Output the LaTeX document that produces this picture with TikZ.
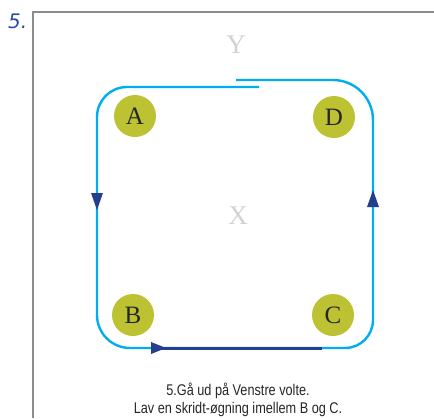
\documentclass[tikz,border=0pt]{standalone}
\usepackage{fontspec}
\setmainfont{Liberation Serif}
\newfontfamily\capfont[FakeStretch=0.82]{Liberation Sans}
\newfontfamily\handfont{DejaVu Sans}
\definecolor{frame}{HTML}{8C8C8C}
\definecolor{track}{HTML}{00AEEF}
\definecolor{darkarrow}{HTML}{253F8F}
\definecolor{olive}{HTML}{BCC232}
\definecolor{lettergray}{HTML}{D2D2D2}
\definecolor{handblue}{HTML}{2B4A9A}
\begin{document}
\begin{tikzpicture}[x=1pt,y=-1pt,
  letter/.style={circle,fill=olive,minimum size=42pt,inner sep=0pt,font=\fontsize{25}{25}\selectfont,text=black!85},
  faint/.style={font=\fontsize{27}{27}\selectfont,text=lettergray},
  trackline/.style={draw=track,line width=2.4pt},
  darkline/.style={draw=darkarrow,line width=3pt},
  tip/.style={fill=darkarrow}]
\useasboundingbox (0,0) rectangle (434,418);
% frame
\draw[frame,line width=2.2pt] (33,418) -- (33,12) -- (434,12);
\node[font=\handfont\itshape\fontsize{20}{20}\selectfont,text=handblue,anchor=base west,inner sep=0pt] (num) at (8,28) {5.};
% track
\coordinate (s) at (259,87);
\coordinate (e) at (236,80);
\draw[trackline] (s) -- (127,87) .. controls (110.4,87) and (97,100.4) .. (97,117)
  -- (97,315) .. controls (97,333.2) and (111.8,348) .. (130,348)
  -- (345,348) .. controls (360.5,348) and (373,335.5) .. (373,320)
  -- (373,120) .. controls (373,97.9) and (355.1,80) .. (333,80)
  -- (e);
\coordinate (b1) at (152,348);
\coordinate (b2) at (322,348);
\draw[darkline] (b1) -- (b2);
% arrowheads
\fill[tip] (151,342) -- (166,348) -- (151,354) -- cycle;
\fill[tip] (91,193) -- (97,210) -- (103,193) -- cycle;
\fill[tip] (367,207) -- (373,190) -- (379,207) -- cycle;
% markers
\node[letter] (A) at (135,116) {A};
\node[letter] (D) at (334,117) {D};
\node[letter] (B) at (133,315) {B};
\node[letter] (C) at (333,315) {C};
\node[faint] (Y) at (236,45) {Y};
\node[faint] (X) at (238,216) {X};
\node[font=\capfont\fontsize{15.5}{17.5}\selectfont,align=center,text=black!85] (cap) at (238,400) {5.Gå ud på Venstre volte.\\Lav en skridt-øgning imellem B og C.};
\end{tikzpicture}
\end{document}
